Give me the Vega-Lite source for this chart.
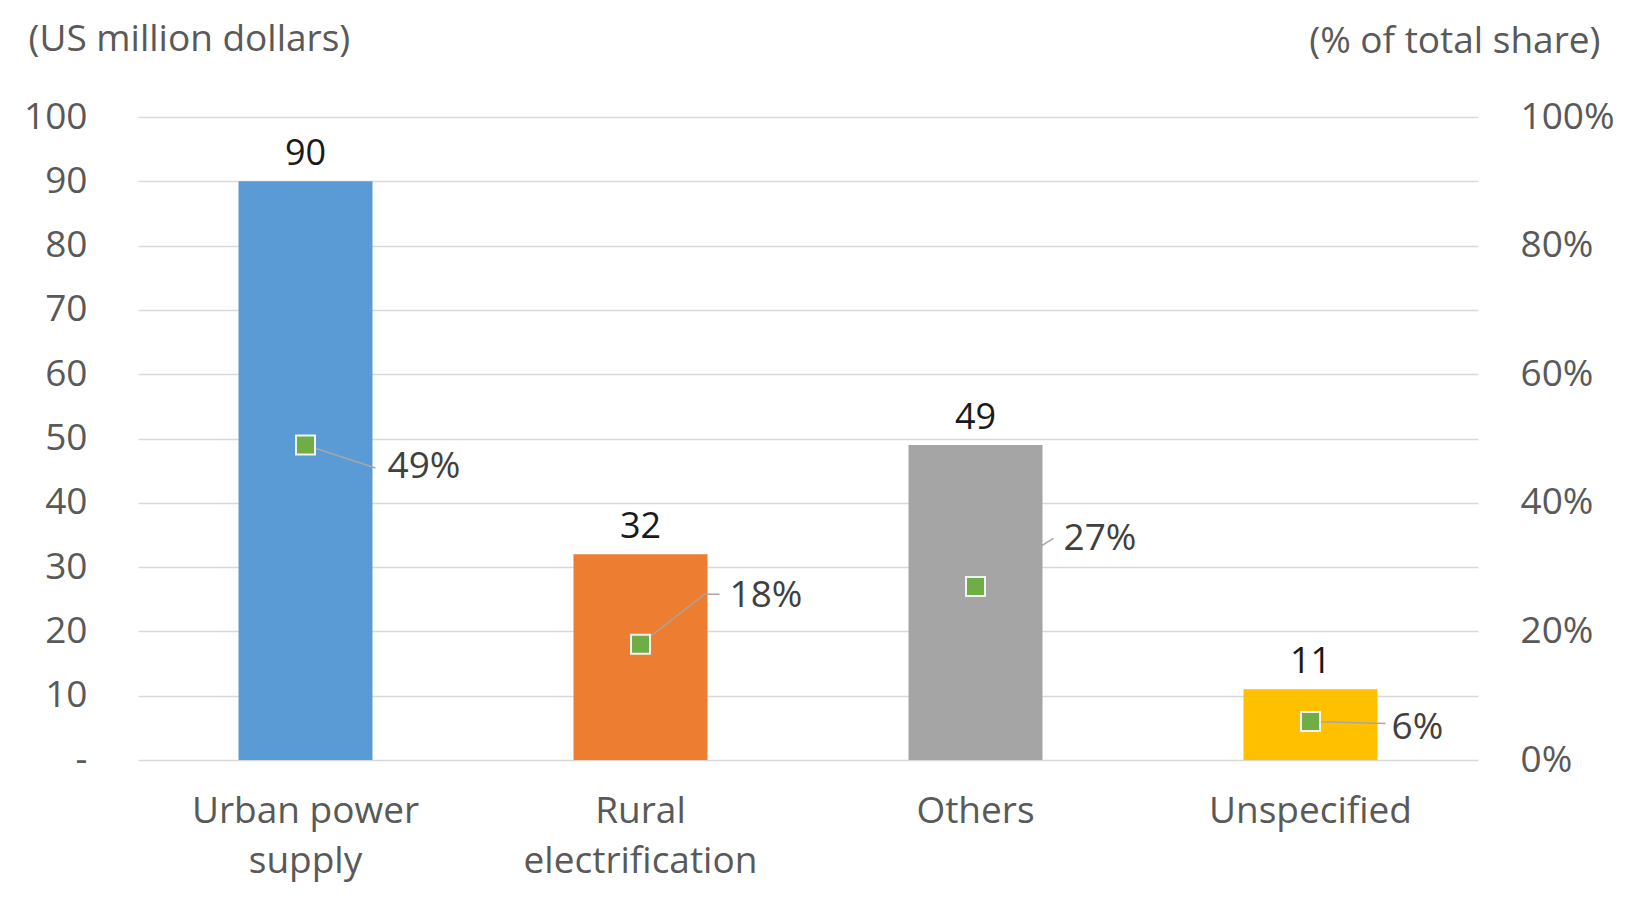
{
  "$schema": "https://vega.github.io/schema/vega-lite/v6.json",
  "width": 1340,
  "height": 643,
  "autosize": {"type": "none"},
  "padding": {"left": 138, "top": 117, "right": 151, "bottom": 153},
  "background": "white",
  "config": {"font": "Open Sans", "view": {"stroke": null}},
  "data": {
    "values": [
      {"category": "Urban power supply", "amount": 90, "share": 0.49},
      {"category": "Rural electrification", "amount": 32, "share": 0.18},
      {"category": "Others", "amount": 49, "share": 0.27},
      {"category": "Unspecified", "amount": 11, "share": 0.06}
    ]
  },
  "encoding": {
    "x": {
      "field": "category",
      "type": "nominal",
      "sort": null,
      "scale": {"paddingInner": 0.6, "paddingOuter": 0.3},
      "axis": {
        "title": null,
        "domain": false,
        "ticks": false,
        "labelAngle": 0,
        "labelFontSize": 37,
        "labelColor": "#595959",
        "labelLineHeight": 50,
        "labelPadding": 33,
        "labelLimit": 0,
        "labelExpr": "datum.value == 'Urban power supply' ? ['Urban power', 'supply'] : datum.value == 'Rural electrification' ? ['Rural', 'electrification'] : datum.value"
      }
    }
  },
  "layer": [
    {
      "encoding": {
        "y": {
          "field": "amount",
          "type": "quantitative",
          "scale": {"domain": [0, 100], "nice": false},
          "axis": {
            "values": [0, 10, 20, 30, 40, 50, 60, 70, 80, 90, 100],
            "labelExpr": "datum.value == 0 ? '-\u2007' : datum.label",
            "grid": true,
            "gridColor": "#D9D9D9",
            "gridWidth": 1.5,
            "domain": false,
            "ticks": false,
            "labelFontSize": 37,
            "labelColor": "#595959",
            "labelPadding": 51,
            "title": "(US million dollars)",
            "titleFontSize": 37,
            "titleFontWeight": "normal",
            "titleColor": "#595959",
            "titleAngle": 0,
            "titleAlign": "left",
            "titleBaseline": "middle",
            "titleX": -110,
            "titleY": -78
          }
        }
      },
      "layer": [
        {
          "mark": {"type": "bar"},
          "encoding": {
            "color": {
              "field": "category",
              "type": "nominal",
              "scale": {
                "domain": ["Urban power supply", "Rural electrification", "Others", "Unspecified"],
                "range": ["#5B9BD5", "#ED7D31", "#A5A5A5", "#FFC000"]
              },
              "legend": null
            }
          }
        },
        {
          "mark": {"type": "text", "fontSize": 36, "color": "#1a1a1a", "baseline": "alphabetic", "dy": -16},
          "encoding": {"text": {"field": "amount", "type": "quantitative"}}
        }
      ]
    },
    {
      "encoding": {
        "y": {
          "field": "share",
          "type": "quantitative",
          "scale": {"domain": [0, 1], "nice": false},
          "axis": {
            "orient": "right",
            "values": [0, 0.2, 0.4, 0.6, 0.8, 1],
            "format": ".0%",
            "grid": false,
            "domain": false,
            "ticks": false,
            "labelFontSize": 37,
            "labelColor": "#595959",
            "labelPadding": 42,
            "title": "(% of total share)",
            "titleFontSize": 37,
            "titleFontWeight": "normal",
            "titleColor": "#595959",
            "titleAngle": 0,
            "titleAlign": "right",
            "titleBaseline": "middle",
            "titleX": 122,
            "titleY": -76
          }
        }
      },
      "layer": [
        {
          "transform": [{"filter": "datum.category == 'Urban power supply'"}],
          "mark": {"type": "rule", "color": "#A6A6A6", "strokeWidth": 1.5, "x2Offset": 70, "y2Offset": 23},
          "encoding": {"x2": {"field": "category"}, "y2": {"field": "share"}}
        },
        {
          "transform": [{"filter": "datum.category == 'Rural electrification'"}],
          "mark": {"type": "rule", "color": "#A6A6A6", "strokeWidth": 1.5, "x2Offset": 64, "y2Offset": -50},
          "encoding": {"x2": {"field": "category"}, "y2": {"field": "share"}}
        },
        {
          "transform": [{"filter": "datum.category == 'Rural electrification'"}],
          "mark": {"type": "rule", "color": "#A6A6A6", "strokeWidth": 1.5, "xOffset": 64, "yOffset": -50, "x2Offset": 79, "y2Offset": -50},
          "encoding": {"x2": {"field": "category"}, "y2": {"field": "share"}}
        },
        {
          "transform": [{"filter": "datum.category == 'Others'"}],
          "mark": {"type": "rule", "color": "#A5A5A5", "strokeWidth": 1.5, "x2Offset": 78, "y2Offset": -48},
          "encoding": {"x2": {"field": "category"}, "y2": {"field": "share"}}
        },
        {
          "transform": [{"filter": "datum.category == 'Unspecified'"}],
          "mark": {"type": "rule", "color": "#A6A6A6", "strokeWidth": 1.5, "x2Offset": 75, "y2Offset": 2},
          "encoding": {"x2": {"field": "category"}, "y2": {"field": "share"}}
        },
        {
          "mark": {"type": "square", "size": 361, "filled": true, "color": "#70AD47", "stroke": "#F2F2F2", "strokeWidth": 2, "opacity": 1}
        },
        {
          "transform": [{"filter": "datum.category == 'Urban power supply'"}],
          "mark": {"type": "text", "fontSize": 37, "color": "#404040", "align": "left", "baseline": "middle", "dx": 82, "dy": 22},
          "encoding": {"text": {"field": "share", "type": "quantitative", "format": ".0%"}}
        },
        {
          "transform": [{"filter": "datum.category == 'Rural electrification'"}],
          "mark": {"type": "text", "fontSize": 37, "color": "#404040", "align": "left", "baseline": "middle", "dx": 89, "dy": -48},
          "encoding": {"text": {"field": "share", "type": "quantitative", "format": ".0%"}}
        },
        {
          "transform": [{"filter": "datum.category == 'Others'"}],
          "mark": {"type": "text", "fontSize": 37, "color": "#404040", "align": "left", "baseline": "middle", "dx": 88, "dy": -47},
          "encoding": {"text": {"field": "share", "type": "quantitative", "format": ".0%"}}
        },
        {
          "transform": [{"filter": "datum.category == 'Unspecified'"}],
          "mark": {"type": "text", "fontSize": 37, "color": "#404040", "align": "left", "baseline": "middle", "dx": 81, "dy": 7},
          "encoding": {"text": {"field": "share", "type": "quantitative", "format": ".0%"}}
        }
      ]
    }
  ],
  "resolve": {"scale": {"y": "independent"}}
}
